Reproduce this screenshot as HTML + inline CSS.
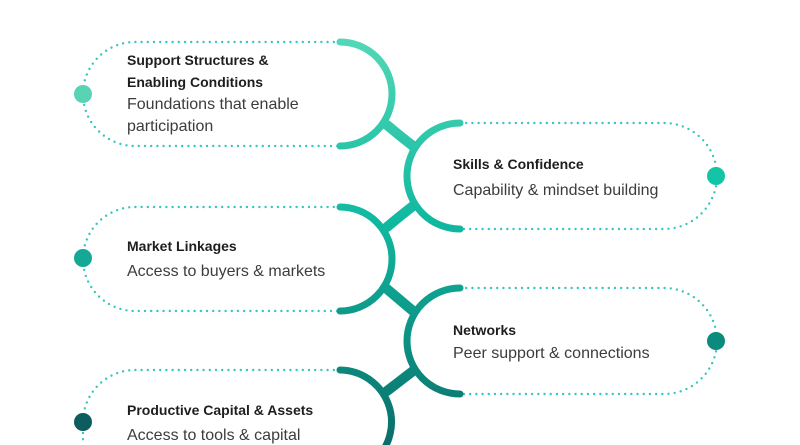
<!DOCTYPE html>
<html><head><meta charset="utf-8"><style>
html,body{margin:0;padding:0;background:#fff;width:800px;height:445px;overflow:hidden;}
svg{display:block;overflow:hidden}
.t{font-family:"Liberation Sans",sans-serif;font-weight:bold;font-size:14px;fill:#1e1e1e}
.s{font-family:"Liberation Sans",sans-serif;font-size:16px;fill:#3c3c3c}
</style></head><body>
<svg width="800" height="445" viewBox="0 0 800 445" xmlns="http://www.w3.org/2000/svg">
<defs>
<linearGradient id="g" gradientUnits="userSpaceOnUse" x1="0" y1="40" x2="0" y2="445">
<stop offset="0" stop-color="#52d8b6"/>
<stop offset="0.45" stop-color="#10b8a0"/>
<stop offset="1" stop-color="#0a6e6a"/>
</linearGradient>
</defs>
<g fill="none" stroke="#35c6bd" stroke-width="2.4" stroke-linecap="round" stroke-dasharray="0 6.2">
<path d="M340,42 H135 A52,52 0 0 0 135,146 H340"/>
<path d="M460,123 H664 A53,53 0 0 1 664,229 H460"/>
<path d="M340,207 H135 A52,52 0 0 0 135,311 H340"/>
<path d="M460,288 H664 A53,53 0 0 1 664,394 H460"/>
<path d="M340,370 H135 A52,52 0 0 0 83,422 L83,445"/>
</g>
<g fill="none" stroke="url(#g)" stroke-width="7" stroke-linecap="round">
<path d="M340,42 A52,52 0 0 1 340,146"/>
<path d="M460,123 A53,53 0 0 0 460,229"/>
<path d="M340,207 A52,52 0 0 1 340,311"/>
<path d="M460,288 A53,53 0 0 0 460,394"/>
<path d="M340,370 A52,52 0 0 1 375,460"/>
</g>
<g fill="none" stroke="url(#g)" stroke-width="10" stroke-linecap="round">
<path d="M387,125 Q400,136 413,146"/>
<path d="M413,206 Q400,216 387,227"/>
<path d="M387,289 Q400,300 413,311"/>
<path d="M413,371 Q400,381 387,391"/>
</g>
<circle cx="83" cy="94" r="9" fill="#58d4b4"/>
<circle cx="716" cy="176" r="9" fill="#14c4a6"/>
<circle cx="83" cy="258" r="9" fill="#15a896"/>
<circle cx="716" cy="341" r="9" fill="#0b8a7e"/>
<circle cx="83" cy="422" r="9" fill="#0d5c5e"/>
<text class="t" x="127" y="65">Support Structures &amp;</text>
<text class="t" x="127" y="87">Enabling Conditions</text>
<text class="s" x="127" y="109">Foundations that enable</text>
<text class="s" x="127" y="131">participation</text>
<text class="t" x="453" y="169">Skills &amp; Confidence</text>
<text class="s" x="453" y="195">Capability &amp; mindset building</text>
<text class="t" x="127" y="251">Market Linkages</text>
<text class="s" x="127" y="276">Access to buyers &amp; markets</text>
<text class="t" x="453" y="335">Networks</text>
<text class="s" x="453" y="358">Peer support &amp; connections</text>
<text class="t" x="127" y="415">Productive Capital &amp; Assets</text>
<text class="t" x="127" y="415" style="display:none"></text>
<text class="s" x="127" y="440">Access to tools &amp; capital</text>
</svg>
</body></html>
